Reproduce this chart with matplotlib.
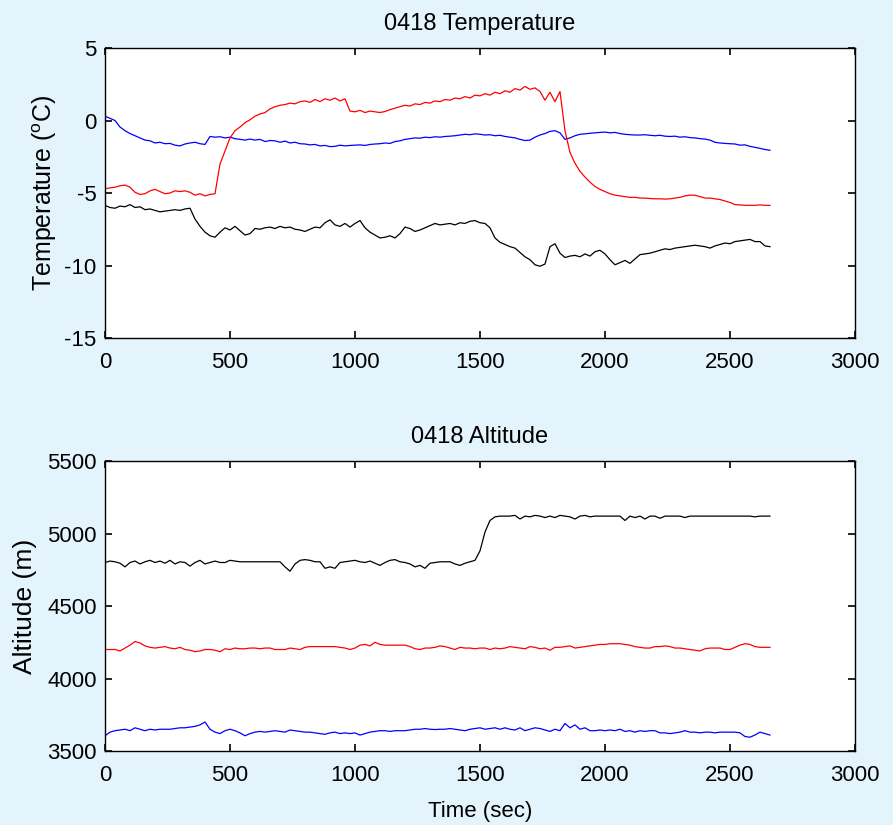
import numpy as np
import matplotlib
matplotlib.use("Agg")
import matplotlib.pyplot as plt

plt.rcParams['font.family'] = ['Liberation Sans', 'DejaVu Sans']
plt.rcParams['mathtext.fontset'] = 'custom'
plt.rcParams['mathtext.rm'] = 'Liberation Sans'
plt.rcParams['axes.unicode_minus'] = False

# sample times (sec), one reading every 20 s
time = list(range(0, 2661, 20))

# temperature (deg C)
temp_blue = [
    0.30, 0.15, 0.00, -0.45, -0.70, -0.90, -1.05, -1.20, -1.35, -1.40,
    -1.55, -1.50, -1.60, -1.58, -1.70, -1.75, -1.62, -1.55, -1.50, -1.60,
    -1.65, -1.10, -1.15, -1.12, -1.20, -1.15, -1.25, -1.30, -1.35, -1.28,
    -1.35, -1.30, -1.45, -1.38, -1.40, -1.50, -1.42, -1.55, -1.50, -1.60,
    -1.62, -1.68, -1.65, -1.75, -1.72, -1.80, -1.78, -1.70, -1.75, -1.72,
    -1.70, -1.68, -1.72, -1.65, -1.62, -1.60, -1.55, -1.58, -1.45, -1.40,
    -1.30, -1.25, -1.20, -1.22, -1.15, -1.18, -1.12, -1.15, -1.10, -1.08,
    -1.05, -1.00, -0.95, -0.98, -0.92, -0.95, -1.00, -0.98, -1.05, -1.02,
    -1.10, -1.15, -1.20, -1.30, -1.38, -1.35, -1.15, -1.00, -0.90, -0.75,
    -0.70, -0.85, -1.30, -1.20, -1.05, -0.95, -0.92, -0.88, -0.85, -0.82,
    -0.80, -0.85, -0.82, -0.90, -0.95, -0.98, -1.00, -1.00, -0.98, -1.02,
    -1.05, -1.02, -1.08, -1.10, -1.08, -1.15, -1.12, -1.18, -1.20, -1.25,
    -1.28, -1.35, -1.50, -1.55, -1.58, -1.60, -1.62, -1.70, -1.68, -1.78,
    -1.85, -1.92, -2.00, -2.05,
]
temp_red = [
    -4.70, -4.65, -4.60, -4.50, -4.45, -4.60, -4.95, -5.10, -5.05, -4.85,
    -4.75, -4.90, -5.05, -5.00, -4.85, -4.90, -4.85, -4.95, -5.15, -5.05,
    -5.20, -5.10, -5.05, -3.00, -2.10, -1.20, -0.70, -0.45, -0.15, 0.05,
    0.30, 0.45, 0.55, 0.80, 0.95, 1.05, 1.10, 1.20, 1.15, 1.30,
    1.35, 1.25, 1.45, 1.30, 1.50, 1.40, 1.55, 1.35, 1.50, 0.65,
    0.60, 0.70, 0.55, 0.65, 0.60, 0.55, 0.62, 0.75, 0.85, 0.95,
    1.05, 1.00, 1.15, 1.10, 1.25, 1.20, 1.35, 1.30, 1.45, 1.40,
    1.55, 1.50, 1.65, 1.55, 1.75, 1.70, 1.85, 1.75, 1.95, 1.85,
    2.05, 1.95, 2.20, 2.10, 2.35, 2.15, 2.25, 2.00, 1.40, 1.95,
    1.30, 2.00, -0.70, -2.20, -2.95, -3.50, -3.90, -4.25, -4.55, -4.75,
    -4.90, -5.05, -5.15, -5.20, -5.25, -5.30, -5.30, -5.35, -5.35, -5.38,
    -5.40, -5.40, -5.42, -5.40, -5.35, -5.30, -5.20, -5.15, -5.15, -5.25,
    -5.35, -5.35, -5.40, -5.45, -5.55, -5.65, -5.80, -5.82, -5.85, -5.85,
    -5.85, -5.82, -5.85, -5.85,
]
temp_black = [
    -5.85, -6.00, -6.05, -5.90, -5.95, -5.80, -6.00, -5.95, -6.15, -6.10,
    -6.20, -6.30, -6.25, -6.20, -6.15, -6.20, -6.10, -6.05, -6.80, -7.30,
    -7.70, -7.95, -8.05, -7.70, -7.40, -7.55, -7.30, -7.60, -7.90, -7.80,
    -7.45, -7.50, -7.40, -7.35, -7.45, -7.30, -7.40, -7.35, -7.50, -7.55,
    -7.65, -7.50, -7.35, -7.40, -7.05, -6.85, -7.20, -7.30, -7.10, -7.35,
    -7.10, -6.90, -7.40, -7.70, -7.90, -8.10, -8.05, -7.95, -8.10, -7.80,
    -7.35, -7.45, -7.65, -7.55, -7.40, -7.25, -7.10, -7.20, -7.15, -7.10,
    -7.20, -7.05, -7.10, -6.95, -6.90, -7.05, -7.10, -7.40, -8.10, -8.40,
    -8.55, -8.70, -8.80, -9.10, -9.40, -9.60, -9.95, -10.05, -9.90, -8.70,
    -8.50, -9.15, -9.45, -9.35, -9.30, -9.40, -9.20, -9.35, -9.05, -8.95,
    -9.20, -9.60, -9.95, -9.80, -9.65, -9.85, -9.55, -9.25, -9.20, -9.15,
    -9.05, -8.95, -8.85, -8.90, -8.80, -8.75, -8.70, -8.65, -8.60, -8.65,
    -8.70, -8.80, -8.65, -8.55, -8.45, -8.50, -8.35, -8.30, -8.25, -8.20,
    -8.35, -8.35, -8.65, -8.70,
]

# altitude (m)
alt_black = [
    4800, 4810, 4805, 4795, 4770, 4800, 4810, 4790, 4805, 4815,
    4800, 4810, 4795, 4815, 4790, 4805, 4800, 4775, 4800, 4815,
    4790, 4800, 4810, 4800, 4800, 4815, 4810, 4805, 4805, 4805,
    4805, 4805, 4805, 4805, 4805, 4805, 4770, 4740, 4790, 4815,
    4820, 4815, 4805, 4805, 4760, 4770, 4760, 4800, 4805, 4810,
    4815, 4805, 4800, 4810, 4795, 4780, 4800, 4815, 4820, 4805,
    4800, 4790, 4770, 4780, 4760, 4795, 4800, 4805, 4805, 4805,
    4790, 4780, 4795, 4805, 4815, 4880, 5010, 5090, 5115, 5120,
    5120, 5120, 5125, 5100, 5120, 5115, 5125, 5120, 5110, 5120,
    5110, 5125, 5120, 5115, 5100, 5120, 5125, 5115, 5120, 5120,
    5120, 5120, 5120, 5120, 5090, 5120, 5110, 5120, 5100, 5120,
    5120, 5105, 5120, 5120, 5120, 5120, 5110, 5120, 5120, 5120,
    5120, 5120, 5120, 5120, 5120, 5120, 5120, 5120, 5120, 5120,
    5115, 5120, 5120, 5120,
]
alt_red = [
    4200, 4200, 4200, 4190, 4210, 4230, 4255, 4245, 4225, 4215,
    4210, 4215, 4220, 4210, 4205, 4215, 4200, 4195, 4185, 4190,
    4200, 4200, 4195, 4185, 4205, 4200, 4210, 4205, 4205, 4210,
    4210, 4205, 4210, 4210, 4200, 4200, 4200, 4210, 4205, 4200,
    4215, 4220, 4220, 4220, 4220, 4220, 4220, 4215, 4210, 4200,
    4210, 4230, 4235, 4225, 4250, 4235, 4230, 4230, 4230, 4230,
    4230, 4220, 4205, 4200, 4210, 4210, 4215, 4225, 4220, 4210,
    4200, 4215, 4210, 4210, 4205, 4210, 4210, 4200, 4210, 4205,
    4210, 4220, 4215, 4210, 4205, 4220, 4215, 4205, 4210, 4195,
    4215, 4215, 4220, 4225, 4210, 4215, 4220, 4225, 4230, 4235,
    4235, 4240, 4240, 4240, 4235, 4230, 4220, 4215, 4210, 4210,
    4220, 4220, 4225, 4220, 4210, 4210, 4205, 4200, 4195, 4190,
    4205, 4210, 4210, 4210, 4200, 4200, 4215, 4230, 4240, 4235,
    4220, 4215, 4215, 4215,
]
alt_blue = [
    3605, 3630, 3640, 3645, 3650, 3640, 3660, 3650, 3640, 3650,
    3645, 3650, 3650, 3650, 3655, 3660, 3660, 3665, 3670, 3680,
    3700, 3650, 3630, 3620, 3640, 3650, 3640, 3625, 3605, 3620,
    3630, 3635, 3630, 3635, 3640, 3635, 3630, 3645, 3640, 3635,
    3630, 3630, 3625, 3620, 3615, 3625, 3630, 3620, 3625, 3620,
    3625, 3610, 3620, 3630, 3635, 3640, 3640, 3635, 3640, 3640,
    3640, 3645, 3650, 3650, 3655, 3650, 3648, 3650, 3650, 3655,
    3650, 3645, 3640, 3650, 3655, 3660, 3650, 3655, 3660, 3650,
    3660, 3650, 3645, 3660, 3640, 3650, 3660, 3655, 3645, 3635,
    3650, 3640, 3690, 3660, 3680, 3650, 3660, 3640, 3640, 3645,
    3640, 3645, 3640, 3650, 3635, 3640, 3630, 3640, 3635, 3640,
    3640, 3625, 3625, 3620, 3625, 3630, 3640, 3630, 3630, 3625,
    3630, 3630, 3625, 3630, 3630, 3630, 3630, 3625, 3600, 3595,
    3610, 3630, 3620, 3610,
]

x_ticks = [0, 500, 1000, 1500, 2000, 2500, 3000]
temp_ticks = [5, 0, -5, -10, -15]
alt_ticks = [5500, 5000, 4500, 4000, 3500]

fig = plt.figure(figsize=(8.93, 8.25), dpi=100)
fig.patch.set_facecolor('#e4f4fc')

ax1 = fig.add_axes([0.1176, 0.5903, 0.8398, 0.3515])
ax2 = fig.add_axes([0.1176, 0.0897, 0.8398, 0.3515])


def style_axes(ax, yticks, ylim):
    ax.set_facecolor('white')
    ax.set_xlim(0, 3000)
    ax.set_ylim(*ylim)
    ax.set_xticks(x_ticks)
    ax.set_yticks(yticks)
    ax.tick_params(direction='in', length=5, width=1.2, top=True, right=True,
                   labelsize=16, colors='black')
    ax.tick_params(axis='x', pad=10)
    ax.tick_params(axis='y', pad=6)
    for sp in ax.spines.values():
        sp.set_linewidth(1.0)
        sp.set_color('black')


ax1.plot(time, temp_blue, color='blue', lw=0.9)
ax1.plot(time, temp_red, color='red', lw=0.9)
ax1.plot(time, temp_black, color='black', lw=0.9)
style_axes(ax1, temp_ticks, (-15, 5))
ax1.set_title('0418 Temperature', fontsize=17, pad=13)
ax1.set_ylabel('Temperature ($^{\\mathrm{o}}$C)', fontsize=18, labelpad=4)

ax2.plot(time, alt_black, color='black', lw=0.9)
ax2.plot(time, alt_red, color='red', lw=0.9)
ax2.plot(time, alt_blue, color='blue', lw=0.9)
style_axes(ax2, alt_ticks, (3500, 5500))
ax2.set_title('0418 Altitude', fontsize=17, pad=13)
ax2.set_ylabel('Altitude (m)', fontsize=19, labelpad=7)
ax2.set_xlabel('Time (sec)', fontsize=16, labelpad=11)

fig.savefig('out.png', dpi=100, facecolor=fig.get_facecolor())
